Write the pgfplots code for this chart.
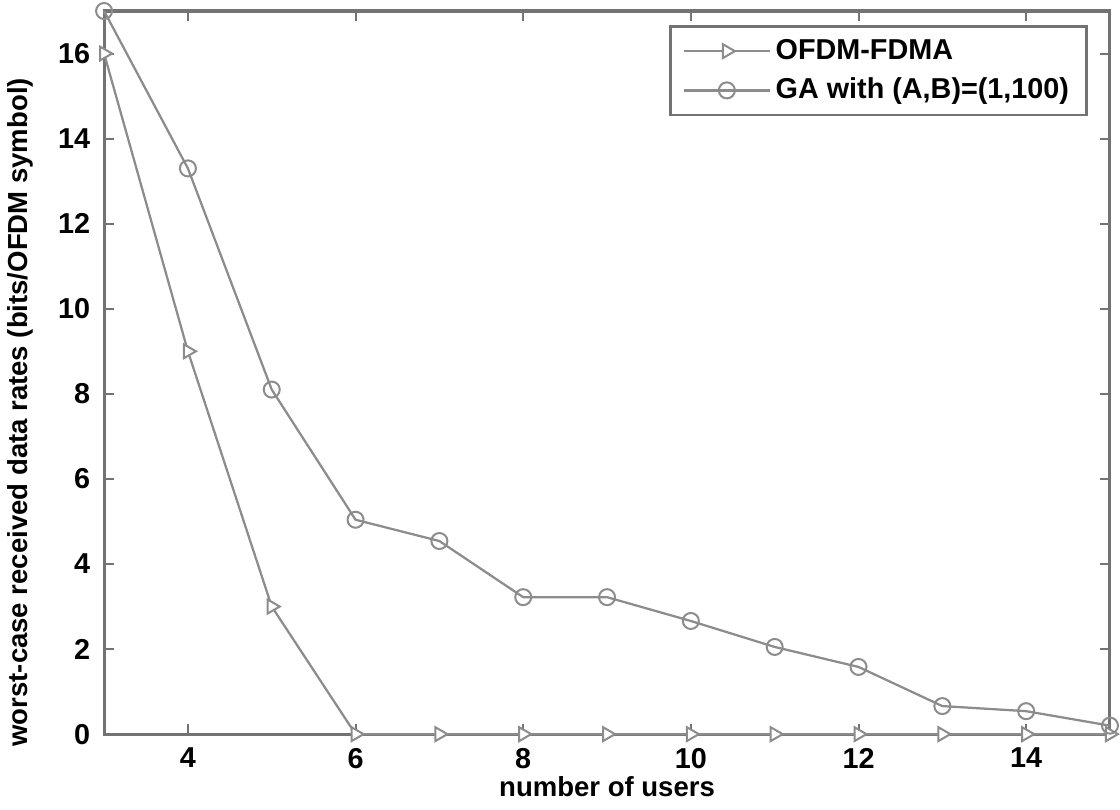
\documentclass[border=0pt]{standalone}
\usepackage{pgfplots}
\pgfplotsset{compat=1.18}
\usepackage{fontspec}
\setmainfont{Liberation Sans}

\definecolor{linegray}{gray}{0.55}
\definecolor{framegray}{gray}{0.45}

\begin{document}
\begin{tikzpicture}
\begin{axis}[
  name=main,
  scale only axis,
  width=402pt, height=289pt,
  xmin=3, xmax=15,
  ymin=0, ymax=17,
  xtick={4,6,...,14},
  ytick={0,2,...,16},
  tick align=inside,
  major tick length=4pt,
  axis line style={framegray, line width=1.2pt},
  tick style={framegray, line width=0.8pt},
  every tick label/.append style={font=\fontsize{11.5}{13}\selectfont\bfseries},
  yticklabel style={xshift=-2pt},
  xticklabel style={yshift=-2pt},
  /pgf/number format/assume math mode=true,
  xlabel={number of users},
  ylabel={worst-case received data rates (bits/OFDM symbol)},
  label style={font=\fontsize{11}{13}\selectfont\bfseries},
  xlabel style={yshift=3.5pt},
  ylabel style={at={(ticklabel cs:0.445)}, yshift=3pt},
  legend cell align=left,
  legend style={at={(rel axis cs:0.978,0.98)}, anchor=north east,
    draw=framegray, line width=1pt,
    font=\fontsize{11.5}{13}\selectfont\bfseries,
    row sep=2pt, inner xsep=5pt, inner ysep=3pt},
  legend image code/.code={
    \draw[mark repeat=2,mark phase=2] plot coordinates {(0cm,0cm) (0.6cm,0cm) (1.2cm,0cm)};
  },
  clip=false,
]
\addplot[linegray, line width=0.9pt, mark=triangle*, mark options={rotate=-90, fill=white, scale=1.6, line width=0.8pt}]
  coordinates {(3,16) (4,9.0) (5,3.0) (6,0) (7,0) (8,0) (9,0) (10,0) (11,0) (12,0) (13,0) (14,0) (15,0)};
\addlegendentry{OFDM-FDMA}
\addplot[linegray, line width=0.9pt, mark=o, mark options={scale=1.6, line width=0.8pt}]
  coordinates {(3,17) (4,13.3) (5,8.1) (6,5.04) (7,4.54) (8,3.22) (9,3.22) (10,2.66) (11,2.05) (12,1.58) (13,0.66) (14,0.54) (15,0.2)};
\addlegendentry{GA with (A,B)=(1,100)}
\end{axis}
\pgfresetboundingbox
\useasboundingbox ([shift={(-41.6pt,-30pt)}]main.south west) rectangle ([shift={(4pt,4.4pt)}]main.north east);
\end{tikzpicture}
\end{document}
